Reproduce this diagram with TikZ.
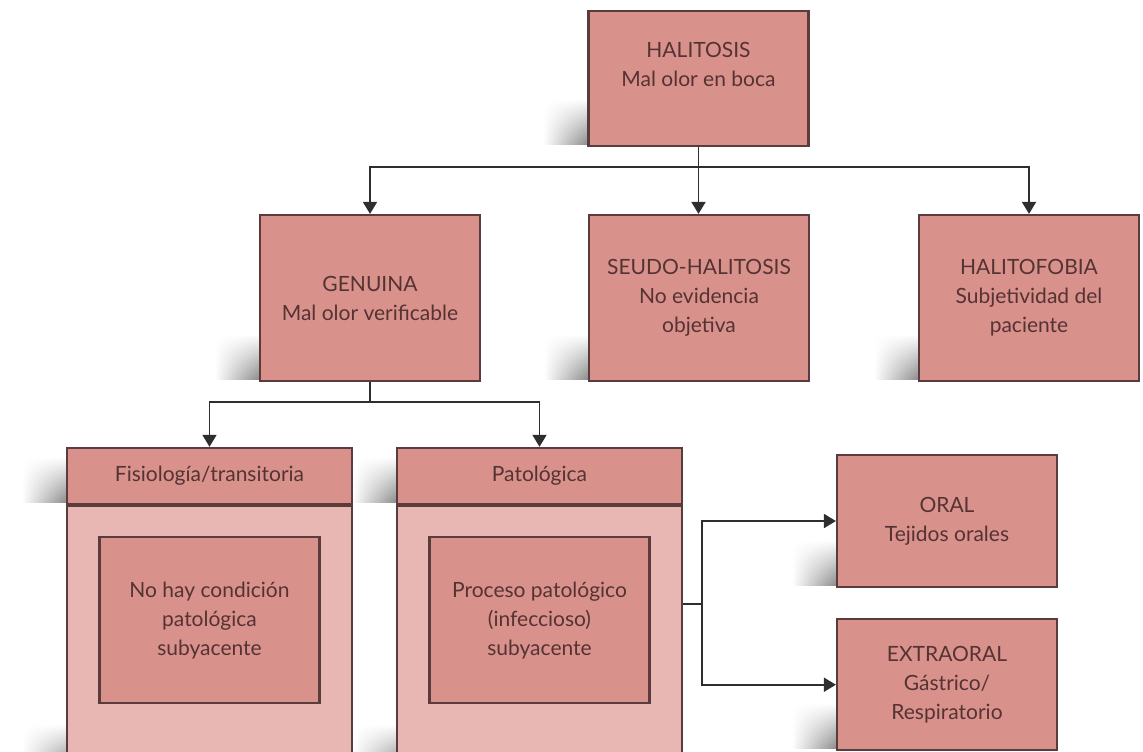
\documentclass[tikz,border=0pt]{standalone}
\usepackage{fontspec}
\setmainfont{Lato}
\usetikzlibrary{positioning,arrows.meta,fadings,backgrounds}

\definecolor{boxfill}{HTML}{D9918C}
\definecolor{bodyfill}{HTML}{E8B7B4}
\definecolor{boxline}{HTML}{5A3C3C}
\definecolor{boxtext}{HTML}{553333}
\definecolor{wirecol}{HTML}{2E2E2E}

\tikzset{
  box/.style={draw=boxline, fill=boxfill, line width=1.1pt, align=center,
    text=boxtext, font=\fontsize{10.5}{14.5}\selectfont,
    minimum width=110pt, minimum height=83pt, inner sep=2pt},
  head/.style={box, minimum width=142.5pt, minimum height=28pt},
  body/.style={draw=boxline, fill=bodyfill, line width=1.1pt,
    minimum width=142.5pt, minimum height=132.5pt, anchor=north},
  wire/.style={draw=wirecol, line width=.9pt},
  tip/.style={wire, -{Triangle[length=6pt,width=7pt]}},
}
% soft shadow at the lower left of a box
\newcommand{\boxshadow}[1]{%
  \shade[left color=white, right color=black!45, path fading=north]
    ([xshift=-22pt,yshift=1.5pt]#1.south west) rectangle ([yshift=24pt]#1.south west);}

\begin{document}
\begin{tikzpicture}[x=0.5pt, y=-0.5pt]
  \path[use as bounding box] (0,0) rectangle (1143,751);

  % top level
  \node[box, minimum height=67.5pt] (halitosis) at (698.5,78.5) {HALITOSIS\\Mal olor en boca\\~};
  \node[box] (genuina) at (370,298) {GENUINA\\Mal olor verificable};
  \node[box] (seudo) at (699,298) {SEUDO-HALITOSIS\\No evidencia\\objetiva};
  \node[box] (fobia) at (1029,298) {HALITOFOBIA\\Subjetividad del\\paciente};

  % genuina split
  \node[body] (fisiobody) at (209.5,505) {};
  \node[body] (patobody) at (539.5,505) {};
  \node[head, above=0pt of fisiobody] (fisio) {Fisiología/transitoria};
  \node[head, above=0pt of patobody] (pato) {Patológica};
  \node[box, below=15.5pt of fisio] (fisioinner) {No hay condición\\patológica\\subyacente};
  \node[box, below=15.5pt of pato] (patoinner) {Proceso patológico\\(infeccioso)\\subyacente};

  % pathologic origin
  \node[box, minimum height=66pt] (oral) at (947,521) {ORAL\\Tejidos orales};
  \node[box, minimum height=65.5pt, below=15pt of oral] (extraoral) {EXTRAORAL\\Gástrico/\\Respiratorio};

  \begin{scope}[on background layer]
    \foreach \n in {halitosis,genuina,seudo,fobia,fisio,pato,fisiobody,patobody,oral,extraoral}
      {\boxshadow{\n}}
  \end{scope}

  % connectors
  \draw[wire] (halitosis.south) -- ++(0,20) coordinate (bus1);
  \draw[tip] (bus1) -| (genuina.north);
  \draw[tip] (bus1) -| (fobia.north);
  \draw[tip] (bus1) -- (bus1 |- seudo.north);

  \draw[wire] (genuina.south) -- ++(0,20) coordinate (bus2);
  \draw[tip] (bus2) -| (fisio.north);
  \draw[tip] (bus2) -| (pato.north);

  \draw[wire] ([yshift=17.5pt]patobody.east) -- ++(19,0) coordinate (bus3);
  \draw[tip] (bus3) |- (oral.west);
  \draw[tip] (bus3) |- (extraoral.west);
\end{tikzpicture}
\end{document}
